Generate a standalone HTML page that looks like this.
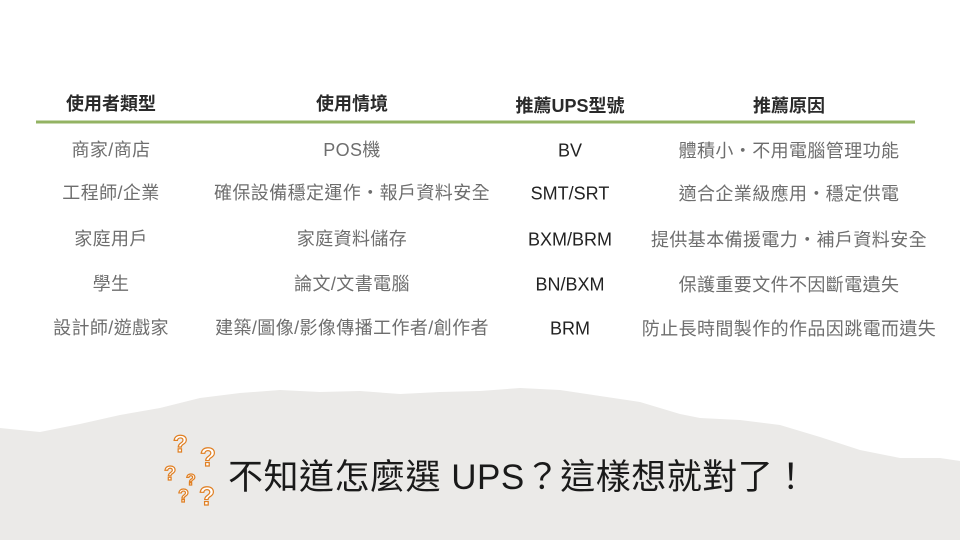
<!DOCTYPE html>
<html><head><meta charset="utf-8"><style>
body{margin:0;width:960px;height:540px;background:#fff;position:relative;overflow:hidden;font-family:"Liberation Sans","Noto Sans CJK TC",sans-serif}
.t{position:absolute;transform:translate(-50%,-50%);white-space:nowrap;font-size:18px;color:#6e6e6e;letter-spacing:0.4px}
.h{font-weight:bold;color:#2a2a2a;font-size:18px;letter-spacing:0}
.m{color:#222;font-size:18px;letter-spacing:0}
</style></head><body>
<svg width="960" height="540" style="position:absolute;left:0;top:0">
<path d="M0,428 L40,432 L80,424 L120,415 L160,408 L200,398 L240,393 L280,390 L320,392 L360,391 L400,394 L440,392 L480,391 L520,388 L560,390 L600,396 L640,402 L680,414 L700,418 L740,420 L780,425 L820,437 L860,450 L900,458 L940,458 L960,461 L960,540 L0,540 Z" fill="#ebeae8"/>
<line x1="36" y1="122" x2="915" y2="122" stroke="#93b363" stroke-width="3"/>
<g fill="#fff" stroke="#e07f22" stroke-width="1.2" font-family="Liberation Sans" font-weight="bold">
<text x="173" y="452" font-size="24">?</text>
<text x="200" y="466" font-size="26">?</text>
<text x="164" y="480" font-size="20">?</text>
<text x="186" y="485" font-size="16">?</text>
<text x="178" y="502" font-size="18">?</text>
<text x="199" y="505" font-size="26">?</text>
</g>
</svg>
<div class="t h" style="left:111px;top:103px">使用者類型</div>
<div class="t h" style="left:352px;top:103px">使用情境</div>
<div class="t h" style="left:570px;top:105px">推薦UPS型號</div>
<div class="t h" style="left:789px;top:105px">推薦原因</div>

<div class="t" style="left:111px;top:149px">商家/商店</div>
<div class="t" style="left:352px;top:149px">POS機</div>
<div class="t m" style="left:570px;top:151px">BV</div>
<div class="t" style="left:789px;top:150px">體積小・不用電腦管理功能</div>

<div class="t" style="left:111px;top:192px">工程師/企業</div>
<div class="t" style="left:352px;top:192px">確保設備穩定運作・報戶資料安全</div>
<div class="t m" style="left:570px;top:194px">SMT/SRT</div>
<div class="t" style="left:789px;top:193px">適合企業級應用・穩定供電</div>

<div class="t" style="left:111px;top:238px">家庭用戶</div>
<div class="t" style="left:352px;top:238px">家庭資料儲存</div>
<div class="t m" style="left:570px;top:240px">BXM/BRM</div>
<div class="t" style="left:789px;top:239px">提供基本備援電力・補戶資料安全</div>

<div class="t" style="left:111px;top:283px">學生</div>
<div class="t" style="left:352px;top:283px">論文/文書電腦</div>
<div class="t m" style="left:570px;top:285px">BN/BXM</div>
<div class="t" style="left:789px;top:284px">保護重要文件不因斷電遺失</div>

<div class="t" style="left:111px;top:327px">設計師/遊戲家</div>
<div class="t" style="left:352px;top:327px">建築/圖像/影像傳播工作者/創作者</div>
<div class="t m" style="left:570px;top:329px">BRM</div>
<div class="t" style="left:789px;top:328px">防止長時間製作的作品因跳電而遺失</div>

<div style="position:absolute;left:228px;top:456px;font-size:35px;line-height:44px;color:#1a1a1a;white-space:nowrap;letter-spacing:0.5px">不知道怎麼選 UPS？這樣想就對了！</div>
</body></html>
